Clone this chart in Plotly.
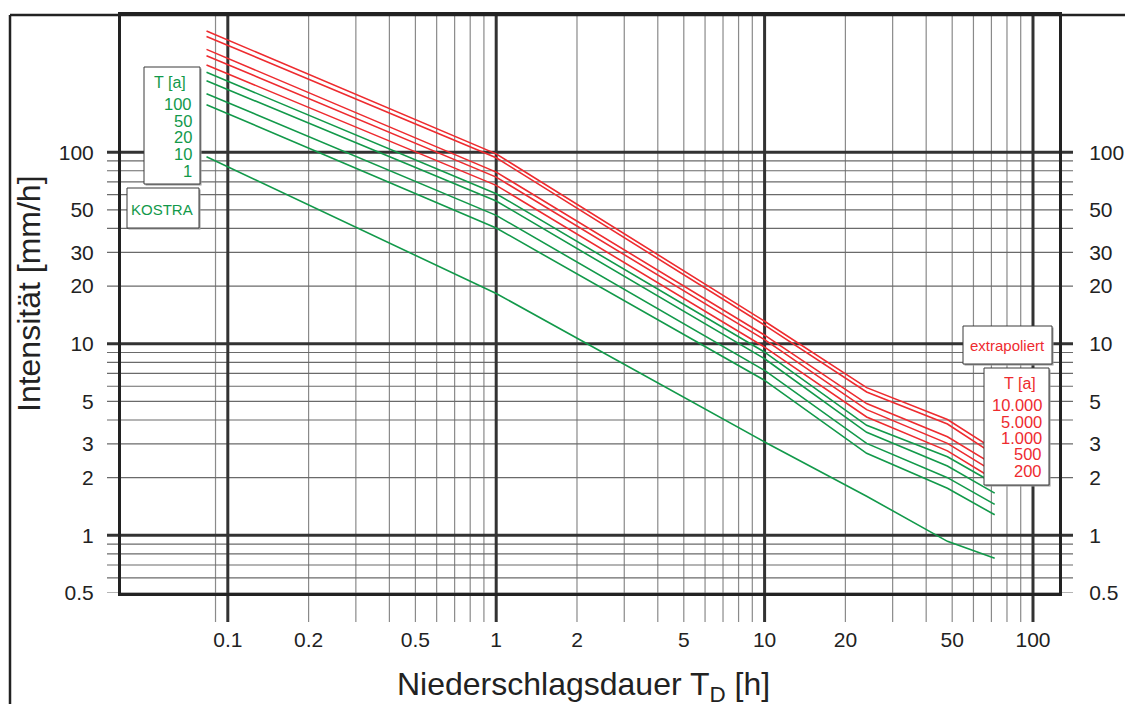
import math
import plotly.graph_objects as go

# ---------------- data ----------------
durations_h = [0.0833, 1, 10, 24, 48, 72]

kostra_T = ["1", "10", "20", "50", "100"]
kostra_vals = {
    "1":   [94.6, 18.3, 3.07, 1.60, 0.93, 0.76],
    "10":  [177, 40.2, 6.44, 2.68, 1.76, 1.28],
    "20":  [202, 46.8, 7.26, 3.02, 2.00, 1.45],
    "50":  [236, 55.6, 8.35, 3.45, 2.30, 1.66],
    "100": [261, 60.7, 9.04, 3.75, 2.57, 1.86],
}

extra_T = ["200", "500", "1.000", "5.000", "10.000"]
extra_vals = {
    "200":    [285, 67.1, 9.6, 4.15, 2.76, 1.95],
    "500":    [319, 74.1, 10.5, 4.53, 3.02, 2.13],
    "1.000":  [344, 78.7, 11.1, 4.87, 3.27, 2.32],
    "5.000":  [402, 93.5, 12.5, 5.60, 3.81, 2.63],
    "10.000": [429, 98.0, 13.1, 5.90, 4.02, 2.80],
}

x_tickvals = [0.1, 0.2, 0.5, 1, 2, 5, 10, 20, 50, 100]
x_ticktext = ["0.1", "0.2", "0.5", "1", "2", "5", "10", "20", "50", "100"]
y_tickvals = [0.5, 1, 2, 3, 5, 10, 20, 30, 50, 100]
y_ticktext = ["0.5", "1", "2", "3", "5", "10", "20", "30", "50", "100"]

x_range = [0.04, 125]
y_range = [0.5, 520]

x_major_grid = [0.1, 1, 10, 100]
x_minor_grid = [0.09, 0.2, 0.3, 0.4, 0.5, 0.6, 0.7, 0.8, 0.9,
                2, 3, 4, 5, 6, 7, 8, 9,
                20, 30, 40, 50, 60, 70, 80, 90]
y_major_grid = [1, 10, 100]
y_minor_grid = [0.5, 0.6, 0.7, 0.8, 0.9,
                2, 3, 4, 5, 6, 7, 8, 9,
                20, 30, 40, 50, 60, 70, 80, 90]

legend_left_T = ["100", "50", "20", "10", "1"]
legend_right_T = ["10.000", "5.000", "1.000", "500", "200"]

# ---------------- styling ----------------
GREEN = "#12994a"
RED = "#ee2b2f"
FONT = "Liberation Sans, Arial, Helvetica, sans-serif"
W, H = 1125, 704
ML, MR, MT, MB = 121, 66, 15, 111
PW, PH = W - ML - MR, H - MT - MB


def px(x):
    return (x - ML) / PW


def py(y):
    return (H - MB - y) / PH


fig = go.Figure()

for t in kostra_T:
    fig.add_trace(go.Scatter(x=durations_h, y=kostra_vals[t], mode="lines",
                             line=dict(color=GREEN, width=1.6),
                             name="KOSTRA T=" + t, showlegend=False))
for t in extra_T:
    fig.add_trace(go.Scatter(x=durations_h, y=extra_vals[t], mode="lines",
                             line=dict(color=RED, width=1.6),
                             name="extrapoliert T=" + t, showlegend=False))
# carrier for the right-hand tick labels
fig.add_trace(go.Scatter(x=[], y=[], yaxis="y2", showlegend=False,
                         hoverinfo="skip"))

shapes = []
tick_below = 29 / PH
tick_side = 14 / PW
for v in x_minor_grid:
    shapes.append(dict(type="line", xref="x", yref="paper", x0=v, x1=v,
                       y0=-tick_below, y1=1, layer="below",
                       line=dict(color="#8a8a8a", width=1.2)))
for v in y_minor_grid:
    shapes.append(dict(type="line", xref="paper", yref="y", x0=-tick_side,
                       x1=1 + tick_side, y0=v, y1=v, layer="below",
                       line=dict(color="#6a6a6a", width=1.2)))
for v in x_major_grid:
    shapes.append(dict(type="line", xref="x", yref="paper", x0=v, x1=v,
                       y0=-tick_below, y1=1, layer="below",
                       line=dict(color="#333333", width=3)))
for v in y_major_grid:
    shapes.append(dict(type="line", xref="paper", yref="y", x0=-tick_side,
                       x1=1 + tick_side, y0=v, y1=v, layer="below",
                       line=dict(color="#333333", width=3)))

# outer frame
shapes.append(dict(type="line", xref="paper", yref="paper", x0=px(10), x1=px(1130),
                   y0=py(15), y1=py(15), line=dict(color="#222222", width=2.5)))
shapes.append(dict(type="line", xref="paper", yref="paper", x0=px(10), x1=px(10),
                   y0=py(15), y1=py(710), line=dict(color="#222222", width=2.5)))


def box(x0, y0, x1, y1):
    shapes.append(dict(type="rect", xref="paper", yref="paper",
                       x0=px(x0 + 1.5), x1=px(x1 + 1.5), y0=py(y1 + 1.5), y1=py(y0 + 1.5),
                       layer="above", fillcolor="#9a9a9a", line=dict(width=0)))
    shapes.append(dict(type="rect", xref="paper", yref="paper",
                       x0=px(x0), x1=px(x1), y0=py(y1), y1=py(y0),
                       layer="above", fillcolor="white",
                       line=dict(color="#3a3a3a", width=1)))


box(144, 67, 200, 184)
box(127, 188, 199, 228)
box(963, 326, 1052, 364)
box(984, 368, 1049, 485)

annotations = []


def label(text, x, y, color, anchor="center", size=15):
    annotations.append(dict(text=text, xref="paper", yref="paper", x=px(x), y=py(y),
                            xanchor=anchor, yanchor="middle", showarrow=False,
                            font=dict(family=FONT, size=size, color=color)))


label("T [a]", 170, 82, GREEN, size=16)
for i, t in enumerate(legend_left_T):
    label(t, 194, 104 + i * 16.7, GREEN, anchor="right", size=16.5)
label("KOSTRA", 162, 209, GREEN, size=15)
label("extrapoliert", 1007, 345, RED, size=15)
label("T [a]", 1020, 383, RED, size=16)
for i, t in enumerate(legend_right_T):
    label(t, 1044, 405 + i * 16.5, RED, anchor="right", size=16.5)

# axis titles
annotations.append(dict(text="Niederschlagsdauer T<sub>D</sub> [h]", xref="paper", yref="paper",
                        x=px(583), y=py(686), xanchor="center", yanchor="middle",
                        showarrow=False, font=dict(family=FONT, size=32, color="#222222")))
annotations.append(dict(text="Intensität [mm/h]", xref="paper", yref="paper",
                        x=px(29), y=py(294), xanchor="center", yanchor="middle",
                        textangle=-90, showarrow=False,
                        font=dict(family=FONT, size=32, color="#222222")))

xr = [math.log10(v) for v in x_range]
yr = [math.log10(v) for v in y_range]

fig.update_layout(
    width=W, height=H, autosize=False,
    margin=dict(l=ML, r=MR, t=MT, b=MB, pad=0, autoexpand=False),
    paper_bgcolor="white", plot_bgcolor="white",
    showlegend=False,
    font=dict(family=FONT, color="#222222"),
    shapes=shapes, annotations=annotations,
    xaxis=dict(type="log", range=xr, tickvals=x_tickvals, ticktext=x_ticktext,
               automargin=False,
               showgrid=False, zeroline=False, showline=True, mirror=True,
               linecolor="#222222", linewidth=3,
               ticks="outside", ticklen=26, tickcolor="rgba(0,0,0,0)",
               tickfont=dict(size=21, family=FONT, color="#222222")),
    yaxis=dict(type="log", range=yr, tickvals=y_tickvals, ticktext=y_ticktext,
               automargin=False,
               showgrid=False, zeroline=False, showline=True, mirror=True,
               linecolor="#222222", linewidth=3,
               ticks="outside", ticklen=20, tickcolor="rgba(0,0,0,0)",
               tickfont=dict(size=21, family=FONT, color="#222222")),
    yaxis2=dict(type="log", range=yr, tickvals=y_tickvals, ticktext=y_ticktext,
                automargin=False,
                overlaying="y", side="right", anchor="x",
                showgrid=False, zeroline=False, showline=False,
                ticks="outside", ticklen=25, tickcolor="rgba(0,0,0,0)",
                tickfont=dict(size=21, family=FONT, color="#222222")),
)

fig.write_html(
    "out.html",
    config={"displayModeBar": False},
    post_script="document.body.style.margin='0';document.body.style.padding='0';"
                "document.body.style.overflow='hidden';"
                "document.documentElement.style.overflow='hidden';",
)
